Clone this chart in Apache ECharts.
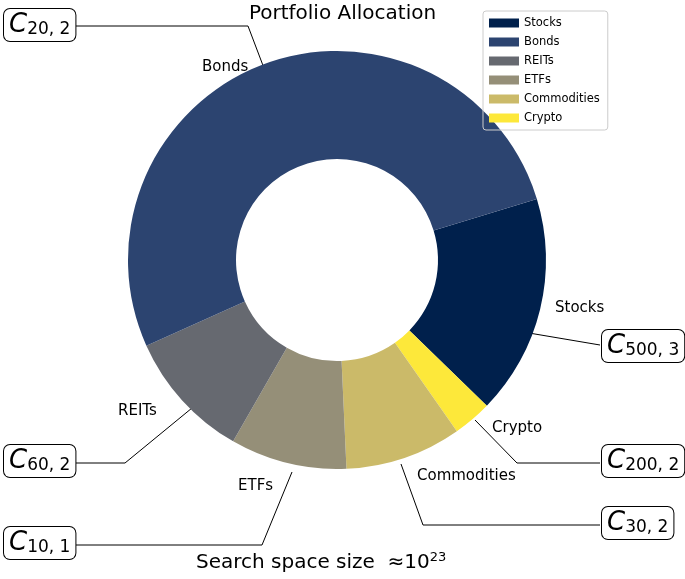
<!DOCTYPE html><html><head><meta charset="utf-8"><script src="https://cdn.jsdelivr.net/npm/echarts@6/dist/echarts.min.js"></script></head><body style="margin:0"><div id="c" style="width:685px;height:579px"></div><script>
const categories=['Stocks','Crypto','Commodities','ETFs','REITs','Bonds'];
const values=[17,3,9,9,10,52];
const legendOrder=['Stocks','Bonds','REITs','ETFs','Commodities','Crypto'];
const colors={Stocks:'#00204c',Bonds:'#2c4470',REITs:'#666970',ETFs:'#958f78',Commodities:'#cbba69',Crypto:'#fde83a'};
const boxes=[['20','2'],['500','3'],['200','2'],['30','2'],['60','2'],['10','1']];
const F='DejaVu Sans';
const chart=echarts.init(document.getElementById('c'));
function box(x,y,b){return {type:'text',left:x,top:y,style:{text:'{c|C}{s|'+b[0]+', '+b[1]+'}',fill:'#000',borderColor:'#000',borderWidth:1,borderRadius:6,padding:[3,5,3,5],backgroundColor:'#fff',rich:{c:{fontFamily:F,fontSize:26,fontStyle:'italic',verticalAlign:'bottom'},s:{fontFamily:F,fontSize:17,verticalAlign:'bottom',padding:[0,0,0,0]}}}};}
function line(pts){return {type:'polyline',shape:{points:pts},style:{stroke:'#000',lineWidth:1,fill:null}};}
function lab(t,x,y){return {type:'text',left:x,top:y,style:{text:t,font:'15px '+F,fill:'#000'}};}
chart.setOption({
title:{text:'Portfolio Allocation',left:'center',top:-1,textStyle:{fontFamily:F,fontSize:20,fontWeight:'normal',color:'#000'}},
legend:{orient:'vertical',left:483,top:11,data:legendOrder,itemWidth:30,itemHeight:9,itemGap:7,icon:'rect',borderColor:'#ccc',borderWidth:1,borderRadius:3,padding:[6,8,6,6],textStyle:{fontFamily:F,fontSize:11.5,color:'#000'}},
series:[{type:'pie',center:[337,260],radius:[101,209],startAngle:17,clockwise:true,label:{show:false},labelLine:{show:false},silent:true,animation:false,
 data:categories.map((c,i)=>({name:c,value:values[i],itemStyle:{color:colors[c]}}))}],
graphic:[
 line([[75,26],[248,26],[270,84]]),line([[600,345],[529,333]]),line([[600,463],[517,463],[475,420]]),
 line([[600,525],[423,525],[401,464]]),line([[75,463],[125,463],[192,408]]),line([[75,545],[262,545],[292,472]]),
 box(3,8,boxes[0]),box(601,329,boxes[1]),box(601,444,boxes[2]),box(601,506,boxes[3]),box(3,444,boxes[4]),box(3,526,boxes[5]),
 lab('Bonds',202,60),lab('Stocks',555,301),lab('Crypto',492,421),lab('Commodities',417,469),lab('ETFs',238,479),lab('REITs',118,404),
 {type:'text',left:196,top:551,style:{text:'Search space size  ≈10{sup|23}',font:'20px '+F,fill:'#000',rich:{sup:{fontFamily:F,fontSize:13,verticalAlign:'top',padding:[0,0,10,0]}}}}
]});
</script></body></html>
